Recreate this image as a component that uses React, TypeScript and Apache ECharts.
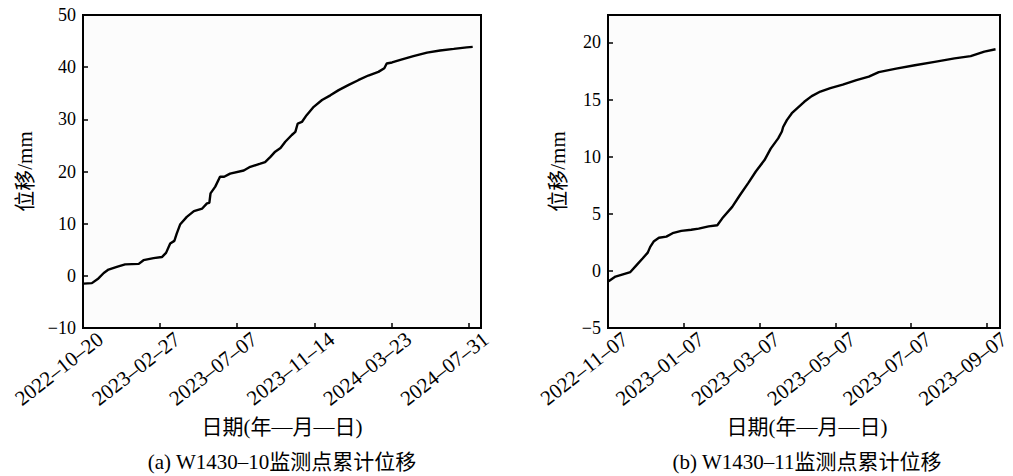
import React, { useEffect, useRef } from "react";
import * as echarts from "echarts";

// ---- data (a) W1430-10 ----
const leftTickLabels = ["2022–10–20", "2023–02–27", "2023–07–07", "2023–11–14", "2024–03–23", "2024–07–31"];
const leftTickStep = 130; // days between ticks
const leftDays = [1, 15, 26, 35, 43, 57, 71, 94, 102, 119, 133, 140, 147, 154, 158, 164, 175, 187, 201, 209, 213, 215, 223, 231, 238, 248, 271, 282, 299, 307, 316, 324, 333, 341, 352, 358, 362, 369, 377, 389, 403, 417, 431, 448, 464, 481, 498, 508, 512, 521, 535, 557, 580, 602, 625, 647, 657];
const leftValues = [-1.5, -1.4, -0.5, 0.55, 1.2, 1.7, 2.2, 2.3, 3.0, 3.4, 3.6, 4.4, 6.2, 6.7, 8.1, 9.9, 11.3, 12.4, 12.9, 13.9, 14.0, 15.8, 17.1, 19.0, 19.0, 19.6, 20.2, 20.9, 21.5, 21.8, 22.8, 23.8, 24.5, 25.7, 27.0, 27.6, 29.2, 29.5, 30.8, 32.4, 33.7, 34.6, 35.6, 36.6, 37.5, 38.4, 39.1, 39.8, 40.7, 40.9, 41.4, 42.1, 42.8, 43.2, 43.5, 43.8, 43.9];
const leftYMin = -10;
const leftYMax = 50;
const leftYStep = 10;
const leftXMax = 671;

// ---- data (b) W1430-11 ----
const rightTickLabels = ["2022–11–07", "2023–01–07", "2023–03–07", "2023–05–07", "2023–07–07", "2023–09–07"];
const rightTickStep = 61;
const rightDays = [0.5, 6, 12, 18, 23, 28, 32, 34, 37, 41, 47, 52, 59, 67, 73, 81, 88, 92, 100, 106, 113, 119, 126, 131, 137, 140, 141, 144, 148, 152, 158, 164, 171, 179, 189, 200, 210, 218, 232, 247, 263, 279, 292, 303, 312];
const rightValues = [-0.9, -0.5, -0.3, -0.1, 0.5, 1.1, 1.6, 2.1, 2.6, 2.9, 3.0, 3.3, 3.5, 3.6, 3.7, 3.9, 4.0, 4.6, 5.6, 6.6, 7.7, 8.7, 9.7, 10.7, 11.6, 12.2, 12.6, 13.2, 13.8, 14.2, 14.8, 15.3, 15.7, 16.0, 16.3, 16.7, 17.0, 17.4, 17.7, 18.0, 18.3, 18.6, 18.8, 19.2, 19.4];
const rightYMin = -5;
const rightYMax = 22.4;
const rightYStep = 5;
const rightXMax = 315.6;

const yName = "位移/mm";
const xName = "日期(年—月—日)";
const captions = ["(a) W1430–10监测点累计位移", "(b) W1430–11监测点累计位移"];

const FONT = "'Liberation Serif', 'DejaVu Serif', 'Noto Sans CJK SC', serif";

export default function App() {
  const ref = useRef<HTMLDivElement>(null);
  useEffect(() => {
    if (!ref.current) return;
    const chart = echarts.init(ref.current, undefined, { renderer: "svg" });
    const grids = [
      { left: 83, top: 15, width: 398, height: 313 },
      { left: 608, top: 15, width: 398, height: 313 },
    ];
    const mkX = (idx: number, max: number, step: number, labels: string[]) => ({
      type: "value",
      gridIndex: idx,
      min: 0,
      max,
      interval: step,
      splitLine: { show: false },
      axisLine: { show: true, onZero: false, lineStyle: { color: "#000", width: 2 } },
      axisTick: { show: true, inside: true, length: 5, lineStyle: { color: "#000", width: 1.5 } },
      axisLabel: {
        rotate: 38,
        margin: 22,
        padding: [0, -22, 0, 0],
        showMaxLabel: false,
        color: "#000",
        fontFamily: FONT,
        fontSize: 21,
        formatter: (v: number) => labels[Math.round(v / step)] ?? "",
      },
    });
    const mkY = (idx: number, min: number, max: number, step: number, gap: number) => ({
      type: "value",
      gridIndex: idx,
      min,
      max,
      interval: step,
      name: yName,
      nameLocation: "middle",
      nameGap: gap,
      nameTextStyle: { color: "#000", fontFamily: FONT, fontSize: 21 },
      splitLine: { show: false },
      axisLine: { show: true, onZero: false, lineStyle: { color: "#000", width: 2 } },
      axisTick: { show: true, inside: true, length: 5, lineStyle: { color: "#000", width: 1.5 } },
      axisLabel: {
        margin: 7,
        color: "#000",
        fontFamily: FONT,
        fontSize: 18,
        showMaxLabel: max % step === 0,
        formatter: (v: number) => String(v).replace("-", "−"),
      },
    });
    const textStyle = (x: number, y: number, text: string, size: number) => ({
      type: "text",
      x,
      y,
      style: {
        text,
        fill: "#000",
        font: `${size}px ${FONT}`,
        textAlign: "center",
        textVerticalAlign: "middle",
      },
    });
    chart.setOption({
      animation: false,
      backgroundColor: "#fff",
      grid: grids.map((g) => ({ ...g, show: true, borderColor: "#000", borderWidth: 2, backgroundColor: "#fcfcfc" })),
      xAxis: [mkX(0, leftXMax, leftTickStep, leftTickLabels), mkX(1, rightXMax, rightTickStep, rightTickLabels)],
      yAxis: [mkY(0, leftYMin, leftYMax, leftYStep, 48), mkY(1, rightYMin, rightYMax, rightYStep, 40)],
      series: [
        {
          type: "line",
          xAxisIndex: 0,
          yAxisIndex: 0,
          data: leftDays.map((d, i) => [d, leftValues[i]]),
          showSymbol: false,
          lineStyle: { color: "#000", width: 2.4 },
        },
        {
          type: "line",
          xAxisIndex: 1,
          yAxisIndex: 1,
          data: rightDays.map((d, i) => [d, rightValues[i]]),
          showSymbol: false,
          lineStyle: { color: "#000", width: 2.4 },
        },
      ],
      graphic: [
        textStyle(282, 427, xName, 21),
        textStyle(807, 427, xName, 21),
        textStyle(282, 462, captions[0], 21),
        textStyle(807, 462, captions[1], 21),
      ],
    });
    return () => chart.dispose();
  }, []);
  return <div ref={ref} style={{ position: "fixed", left: 0, top: 0, width: 1013, height: 476 }} />;
}
